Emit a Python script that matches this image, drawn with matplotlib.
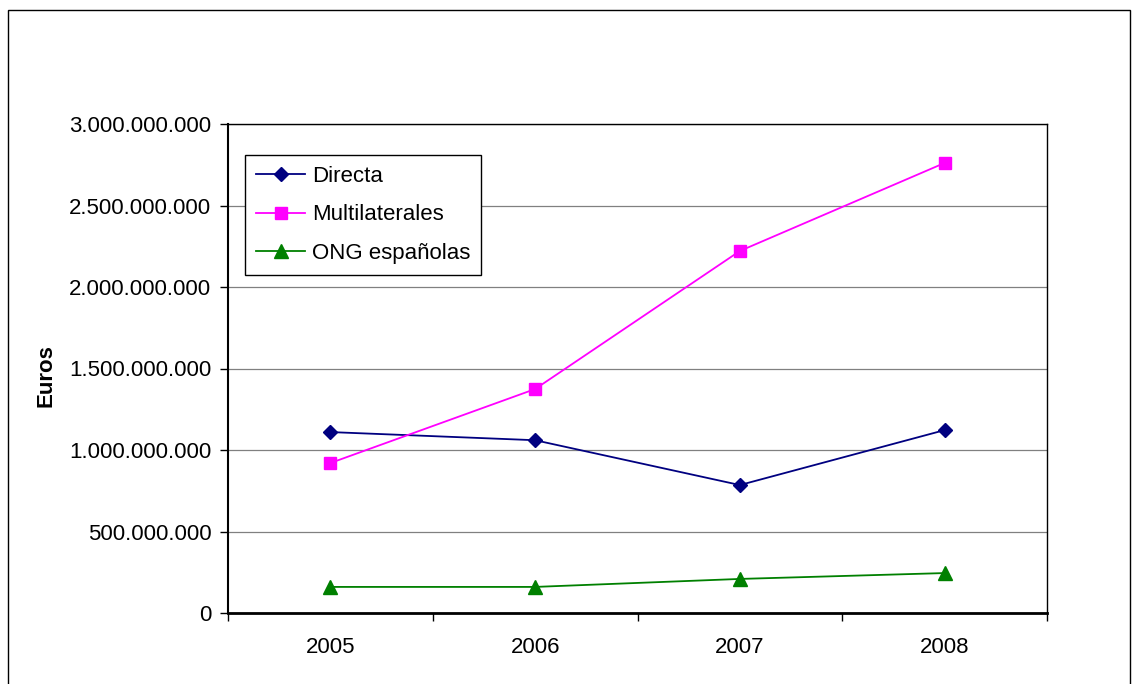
import matplotlib.pyplot as plt
from matplotlib.patches import Rectangle
from matplotlib.ticker import FuncFormatter, FixedLocator


YEARS = ['2005', '2006', '2007', '2008']
DIRECTA = [1110000000, 1060000000, 785000000, 1122000000]
MULTILATERALES = [920000000, 1374000000, 2221000000, 2761000000]
ONG_ESPANOLAS = [160000000, 160000000, 209000000, 245000000]

plt.rcParams['font.family'] = ['Liberation Sans', 'DejaVu Sans']


def euro_format(value, pos):
	'Format with dots as thousands separators.'
	return f'{int(round(value)):,}'.replace(',', '.')


def main():
	fig = plt.figure(figsize=(11.36, 6.84), dpi=100)
	# outer chart frame
	fig.patches.append(Rectangle((8 / 1136, -0.05), 1122 / 1136, 1.05 - 10 / 684, transform=fig.transFigure,
		fill=False, edgecolor='black', linewidth=1.0))
	ax = fig.add_axes([228 / 1136, 71 / 684, 819 / 1136, 489 / 684])
	x = list(range(len(YEARS)))
	ax.plot(x, DIRECTA, color='#000080', marker='D', markersize=7.5, linewidth=1.3, label='Directa')
	ax.plot(x, MULTILATERALES, color='#FF00FF', marker='s', markersize=9, linewidth=1.3, label='Multilaterales')
	ax.plot(x, ONG_ESPANOLAS, color='#008000', marker='^', markersize=10, linewidth=1.3, label='ONG españolas')

	ax.set_xlim(-0.5, len(YEARS) - 0.5)
	ax.set_ylim(0, 3000000000)
	ax.set_yticks(range(0, 3000000001, 500000000))
	ax.yaxis.set_major_formatter(FuncFormatter(euro_format))
	ax.set_xticks(x)
	ax.set_xticklabels(YEARS)
	ax.xaxis.set_minor_locator(FixedLocator([i - 0.5 for i in range(len(YEARS) + 1)]))
	ax.tick_params(axis='x', which='major', length=0, pad=17, labelsize=16)
	ax.tick_params(axis='x', which='minor', length=6, width=1, direction='out')
	ax.tick_params(axis='y', length=6, width=1, direction='out', labelsize=16, pad=6)
	ax.grid(axis='y', color='#808080', linewidth=0.9)
	ax.set_axisbelow(True)
	for side in ['top', 'right']:
		ax.spines[side].set_linewidth(1.0)
	ax.spines['left'].set_linewidth(1.5)
	ax.spines['bottom'].set_linewidth(2.0)
	ax.set_ylabel('Euros', fontsize=16, fontweight='bold')
	ax.yaxis.set_label_coords(-0.21, 0.485)

	ax.legend(loc='upper left', bbox_to_anchor=(17 / 819, 1 - 31 / 489), fancybox=False, edgecolor='black',
		framealpha=1, fontsize=16, handlelength=2.2, handletextpad=0.3, borderpad=0.5, labelspacing=0.78,
		borderaxespad=0)
	ax.get_legend().get_frame().set_linewidth(1.0)

	fig.savefig('out.png', dpi=100)


if __name__ == '__main__':
	main()
